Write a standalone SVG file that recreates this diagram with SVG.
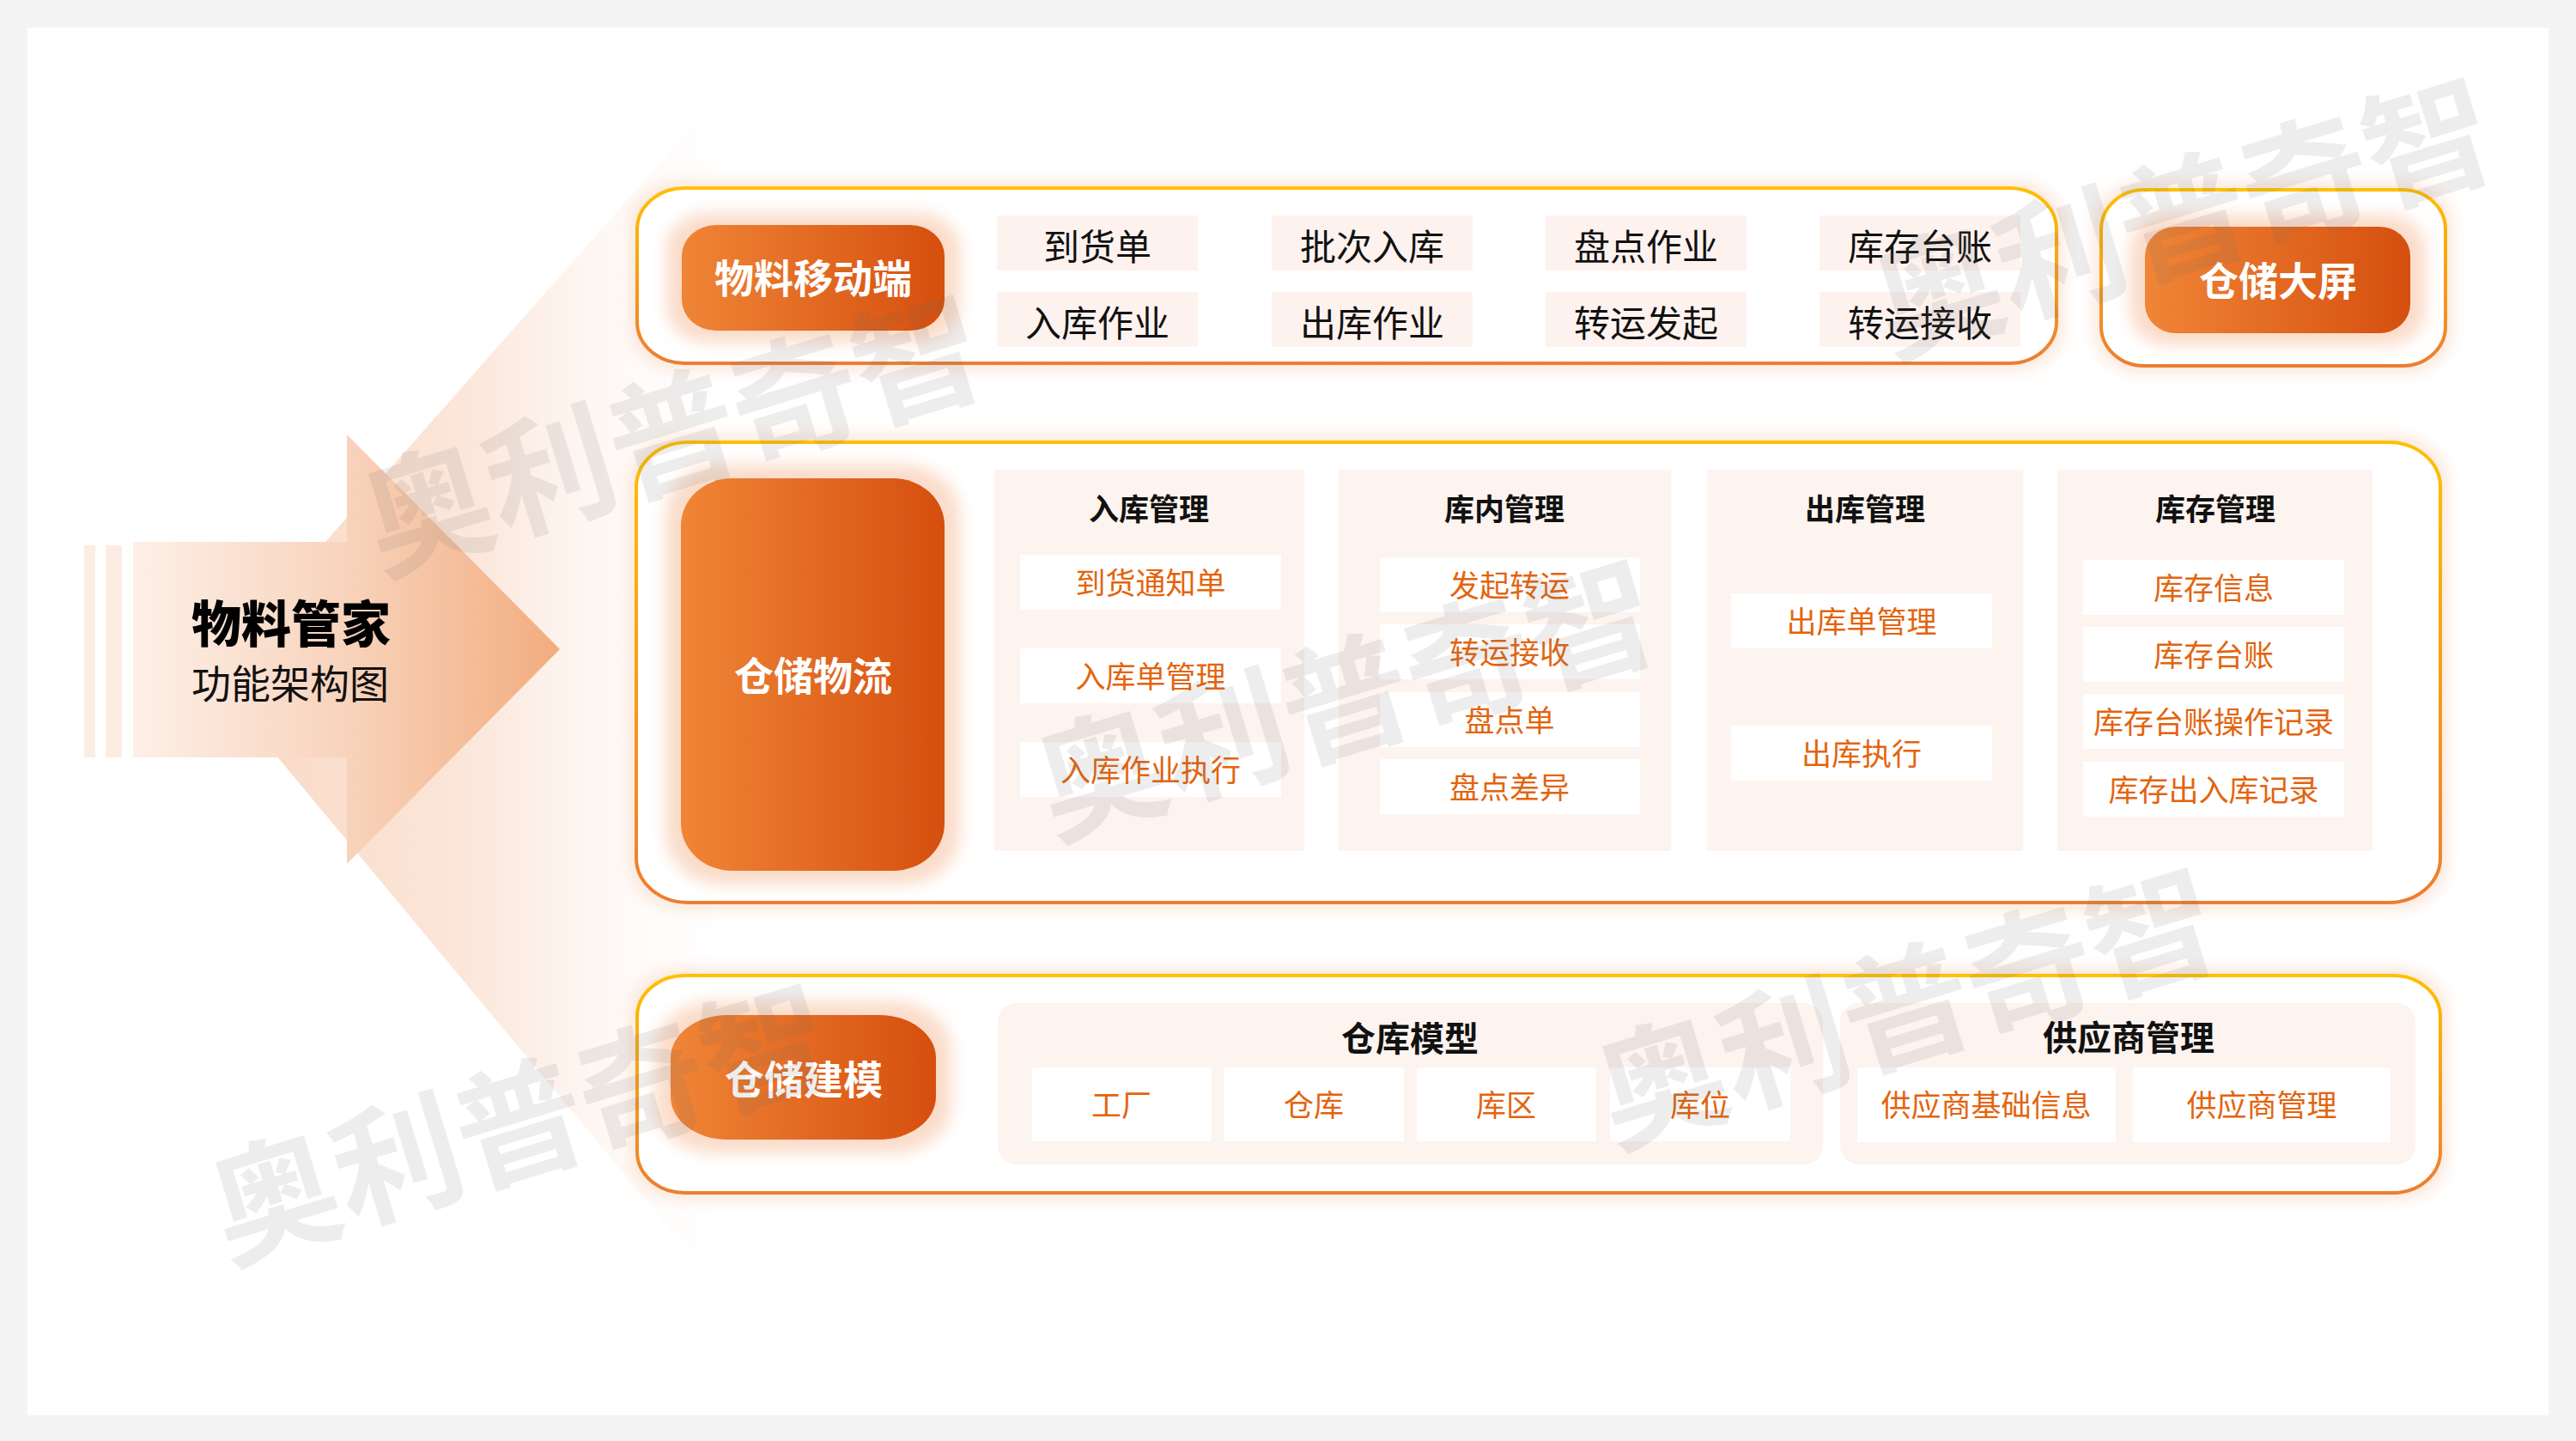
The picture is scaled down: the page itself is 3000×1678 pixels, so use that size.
<svg xmlns="http://www.w3.org/2000/svg" width="3000" height="1678" viewBox="0 0 3000 1678">
<defs>
<style>
.cn{font-family:"Noto Sans CJK SC","Noto Sans",sans-serif;}
.btn{font-family:"Noto Sans CJK SC",sans-serif;font-size:46px;font-weight:700;fill:#ffffff;text-anchor:middle;}
.top{font-family:"Noto Sans CJK SC",sans-serif;font-size:42px;fill:#111111;text-anchor:middle;}
.hd{font-family:"Noto Sans CJK SC",sans-serif;font-size:35px;font-weight:700;fill:#111111;text-anchor:middle;}
.hd2{font-family:"Noto Sans CJK SC",sans-serif;font-size:40px;font-weight:700;fill:#111111;text-anchor:middle;}
.it{font-family:"Noto Sans CJK SC",sans-serif;font-size:35px;fill:#E3640E;text-anchor:middle;}
.cell{fill:#FDF2EE;}
.panel{fill:#FDF3EF;}
.white{fill:#ffffff;}
.box{fill:#ffffff;stroke:url(#gStroke);stroke-width:4;}
.halo{fill:#FBDCC9;filter:url(#blur);}
.chalo{fill:#FBE6D9;filter:url(#blur);}
.wm{font-family:"Noto Sans CJK SC",sans-serif;font-size:149px;font-weight:700;fill:#6e6e6e;fill-opacity:0.12;text-anchor:middle;}
</style>
<linearGradient id="gStroke" x1="0" y1="0" x2="0" y2="1">
<stop offset="0" stop-color="#FFC000"/>
<stop offset="1" stop-color="#ED7D31"/>
</linearGradient>
<linearGradient id="gBtn" x1="0" y1="0" x2="1" y2="0">
<stop offset="0" stop-color="#F08537"/>
<stop offset="1" stop-color="#D54F0E"/>
</linearGradient>
<linearGradient id="gArrow" gradientUnits="userSpaceOnUse" x1="155" y1="0" x2="652" y2="0">
<stop offset="0" stop-color="#FDF0E8"/>
<stop offset="0.5" stop-color="#F8D3BC"/>
<stop offset="1" stop-color="#F2AC7E"/>
</linearGradient>
<linearGradient id="gFan" gradientUnits="userSpaceOnUse" x1="243" y1="0" x2="880" y2="0">
<stop offset="0" stop-color="#F9D6C0" stop-opacity="1"/>
<stop offset="0.5" stop-color="#FBE5D8" stop-opacity="0.9"/>
<stop offset="1" stop-color="#FFFFFF" stop-opacity="0"/>
</linearGradient>
<filter id="blur" x="-20%" y="-20%" width="140%" height="140%">
<feGaussianBlur stdDeviation="9"/>
</filter>
</defs>

<rect x="0" y="0" width="3000" height="1678" fill="#F4F4F4"/>
<rect x="32" y="32" width="2936" height="1616" fill="#FFFFFF"/>

<g id="background-shapes">
<polygon points="243,785 809,144 830,144 830,1466 809,1466" fill="url(#gFan)"/>
<rect x="98" y="635" width="13" height="247" fill="#FCEDE4"/>
<rect x="123" y="635" width="19" height="247" fill="#FCEDE4"/>
<polygon points="155,631 404,631 404,506 652,756 404,1006 404,882 155,882" fill="url(#gArrow)"/>
</g>

<g id="title">
<text class="cn" x="223" y="748" font-size="58" font-weight="900" fill="#000000">物料管家</text>
<text class="cn" x="223" y="813" font-size="46" fill="#111111">功能架构图</text>
</g>

<g id="connectors"></g>

<g id="mobile">
<rect class="chalo" x="734" y="211" width="1669" height="220" rx="60" ry="50"/>
<rect class="box" x="742" y="219" width="1653" height="204" rx="55" ry="48"/>
<rect class="halo" x="776" y="248" width="342" height="151" rx="48" ry="42"/>
<rect x="794" y="262" width="306" height="123" rx="40" ry="36" fill="url(#gBtn)"/>
<text class="btn" x="947" y="341">物料移动端</text>
<rect class="cell" x="1161" y="251" width="234" height="64"/>
<rect class="cell" x="1481" y="251" width="234" height="64"/>
<rect class="cell" x="1800" y="251" width="234" height="64"/>
<rect class="cell" x="2119" y="251" width="234" height="64"/>
<rect class="cell" x="1161" y="340" width="234" height="64"/>
<rect class="cell" x="1481" y="340" width="234" height="64"/>
<rect class="cell" x="1800" y="340" width="234" height="64"/>
<rect class="cell" x="2119" y="340" width="234" height="64"/>
<text class="top" x="1278" y="303">到货单</text>
<text class="top" x="1598" y="303">批次入库</text>
<text class="top" x="1917" y="303">盘点作业</text>
<text class="top" x="2236" y="303">库存台账</text>
<text class="top" x="1278" y="392">入库作业</text>
<text class="top" x="1598" y="392">出库作业</text>
<text class="top" x="1917" y="392">转运发起</text>
<text class="top" x="2236" y="392">转运接收</text>
</g>

<g id="screen">
<rect class="chalo" x="2439" y="213" width="417" height="221" rx="55" ry="50"/>
<rect class="box" x="2447" y="221" width="401" height="205" rx="50" ry="46"/>
<rect class="halo" x="2480" y="250" width="345" height="152" rx="45" ry="42"/>
<rect x="2498" y="264" width="309" height="124" rx="36" ry="34" fill="url(#gBtn)"/>
<text class="btn" x="2653" y="344">仓储大屏</text>
</g>

<g id="logistics">
<rect class="chalo" x="733" y="507" width="2117" height="552" rx="65" ry="55"/>
<rect class="box" x="741" y="515" width="2101" height="536" rx="60" ry="52"/>
<rect class="halo" x="775" y="541" width="343" height="489" rx="66" ry="60"/>
<rect x="793" y="557" width="307" height="457" rx="60" ry="55" fill="url(#gBtn)"/>
<text class="btn" x="947" y="804">仓储物流</text>

<g id="inbound">
<rect class="panel" x="1158" y="547" width="361" height="444"/>
<text class="hd" x="1338" y="606">入库管理</text>
<rect class="white" x="1188" y="646" width="304" height="64"/>
<rect class="white" x="1188" y="755" width="304" height="64"/>
<rect class="white" x="1188" y="864" width="304" height="64"/>
<text class="it" x="1340" y="692">到货通知单</text>
<text class="it" x="1340" y="801">入库单管理</text>
<text class="it" x="1340" y="910">入库作业执行</text>
</g>

<g id="inside">
<rect class="panel" x="1559" y="547" width="387" height="444"/>
<text class="hd" x="1752" y="606">库内管理</text>
<rect class="white" x="1607" y="649" width="303" height="64"/>
<rect class="white" x="1607" y="727" width="303" height="64"/>
<rect class="white" x="1607" y="806" width="303" height="64"/>
<rect class="white" x="1607" y="884" width="303" height="64"/>
<text class="it" x="1758" y="695">发起转运</text>
<text class="it" x="1758" y="773">转运接收</text>
<text class="it" x="1758" y="852">盘点单</text>
<text class="it" x="1758" y="930">盘点差异</text>
</g>

<g id="outbound">
<rect class="panel" x="1988" y="547" width="368" height="444"/>
<text class="hd" x="2172" y="606">出库管理</text>
<rect class="white" x="2016" y="691" width="304" height="64"/>
<rect class="white" x="2016" y="845" width="304" height="64"/>
<text class="it" x="2168" y="737">出库单管理</text>
<text class="it" x="2168" y="891">出库执行</text>
</g>

<g id="stock">
<rect class="panel" x="2396" y="547" width="367" height="444"/>
<text class="hd" x="2580" y="606">库存管理</text>
<rect class="white" x="2426" y="652" width="304" height="64"/>
<rect class="white" x="2426" y="730" width="304" height="64"/>
<rect class="white" x="2426" y="808" width="304" height="64"/>
<rect class="white" x="2426" y="887" width="304" height="64"/>
<text class="it" x="2578" y="698">库存信息</text>
<text class="it" x="2578" y="776">库存台账</text>
<text class="it" x="2578" y="854">库存台账操作记录</text>
<text class="it" x="2578" y="933">库存出入库记录</text>
</g>
</g>

<g id="modeling">
<rect class="chalo" x="734" y="1128" width="2116" height="269" rx="60" ry="50"/>
<rect class="box" x="742" y="1136" width="2100" height="253" rx="55" ry="48"/>
<rect class="halo" x="763" y="1166" width="345" height="177" rx="70" ry="56"/>
<rect x="781" y="1182" width="309" height="145" rx="66" ry="50" fill="url(#gBtn)"/>
<text class="btn" x="936" y="1274" font-size="47">仓储建模</text>

<g id="warehouse-model">
<rect class="panel" x="1162" y="1168" width="961" height="188" rx="22" ry="22"/>
<text class="hd2" x="1642" y="1224">仓库模型</text>
<rect class="white" x="1202" y="1243" width="209" height="86"/>
<rect class="white" x="1425" y="1243" width="210" height="86"/>
<rect class="white" x="1650" y="1243" width="209" height="86"/>
<rect class="white" x="1875" y="1243" width="210" height="86"/>
<text class="it" x="1306" y="1300">工厂</text>
<text class="it" x="1530" y="1300">仓库</text>
<text class="it" x="1754" y="1300">库区</text>
<text class="it" x="1980" y="1300">库位</text>
</g>

<g id="supplier">
<rect class="panel" x="2143" y="1168" width="670" height="188" rx="22" ry="22"/>
<text class="hd2" x="2479" y="1223">供应商管理</text>
<rect class="white" x="2163" y="1243" width="301" height="87"/>
<rect class="white" x="2484" y="1243" width="300" height="87"/>
<text class="it" x="2313" y="1300">供应商基础信息</text>
<text class="it" x="2634" y="1300">供应商管理</text>
</g>
</g>

<g id="watermarks">
<g transform="translate(784,509) rotate(-17)"><text class="wm" x="0" y="52">奥利普奇智</text></g>
<g transform="translate(1568,817) rotate(-17)"><text class="wm" x="0" y="52">奥利普奇智</text></g>
<g transform="translate(2543,256) rotate(-17)"><text class="wm" x="0" y="52">奥利普奇智</text></g>
<g transform="translate(606,1311) rotate(-17)"><text class="wm" x="0" y="52">奥利普奇智</text></g>
<g transform="translate(2221,1176) rotate(-17)"><text class="wm" x="0" y="52">奥利普奇智</text></g>
</g>
</svg>
